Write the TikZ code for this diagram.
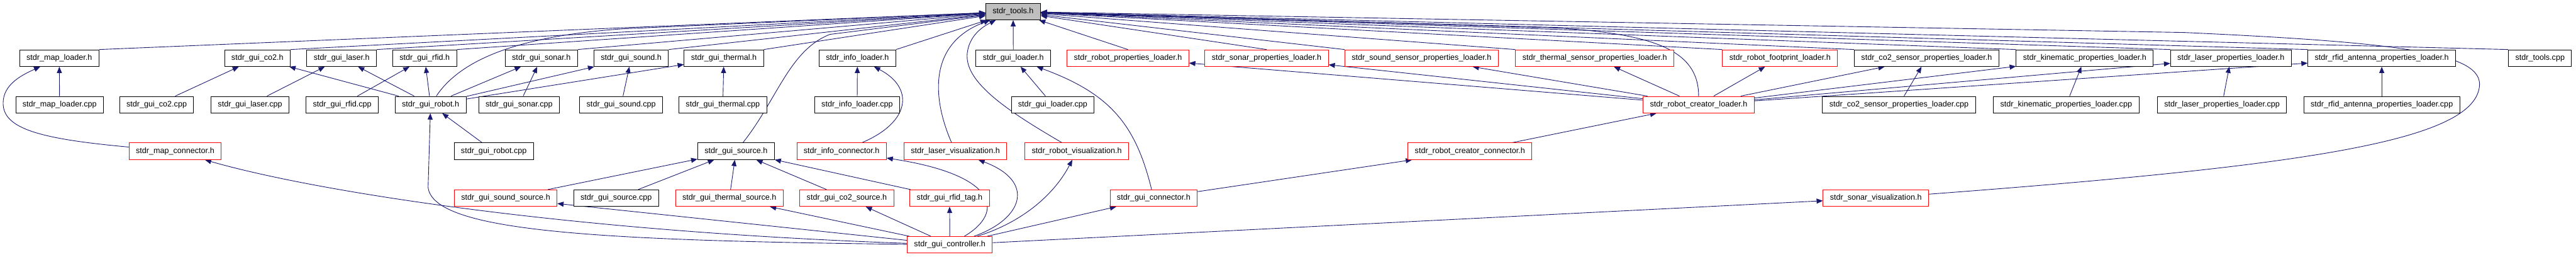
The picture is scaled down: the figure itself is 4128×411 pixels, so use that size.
\documentclass[tikz,border=0pt]{standalone}
\usepackage{fontspec}
\setmainfont{Liberation Sans}
\usepackage{tikz}
\usetikzlibrary{arrows.meta,backgrounds}
\definecolor{EdgeBlue}{RGB}{25,25,112}
\definecolor{TruncRed}{RGB}{255,0,0}
\definecolor{RootGrey}{RGB}{191,191,191}

\tikzset{
	filebox/.style={draw=black, line width=1pt, fill=white, minimum height=26.5pt,
		inner xsep=11pt, inner ysep=0pt, font=\fontsize{12.7}{15}\selectfont},
	redbox/.style={filebox, draw=TruncRed},
	rootbox/.style={filebox, fill=RootGrey},
	dep/.style={draw=EdgeBlue, line width=0.9pt, -{Triangle[length=10pt,width=8pt]}}
}

\begin{document}
\begin{tikzpicture}[x=1pt, y=1pt]
	\useasboundingbox (0,0) rectangle (4128,-411);
	% root
	\node[rootbox] (tools) at (1623.5,-18.5) {stdr\_tools.h};
	% first row
	\node[filebox] (mapl) at (95,-93) {stdr\_map\_loader.h};
	\node[filebox] (guico2) at (412.5,-93) {stdr\_gui\_co2.h};
	\node[filebox] (guilaser) at (547.5,-93) {stdr\_gui\_laser.h};
	\node[filebox] (guirfid) at (680.5,-93) {stdr\_gui\_rfid.h};
	\node[filebox] (guisonar) at (867.5,-93) {stdr\_gui\_sonar.h};
	\node[filebox] (guisound) at (1011.5,-93) {stdr\_gui\_sound.h};
	\node[filebox] (guithermal) at (1160,-93) {stdr\_gui\_thermal.h};
	\node[filebox] (infol) at (1374,-93) {stdr\_info\_loader.h};
	\node[filebox] (guiloader) at (1623.8,-93) {stdr\_gui\_loader.h};
	\node[redbox] (robotprop) at (1807.5,-93) {stdr\_robot\_properties\_loader.h};
	\node[redbox] (sonarprop) at (2029.7,-93) {stdr\_sonar\_properties\_loader.h};
	\node[redbox] (soundprop) at (2278,-93) {stdr\_sound\_sensor\_properties\_loader.h};
	\node[redbox] (thermalprop) at (2555.5,-93) {stdr\_thermal\_sensor\_properties\_loader.h};
	\node[redbox] (footprint) at (2852.5,-93) {stdr\_robot\_footprint\_loader.h};
	\node[filebox] (co2prop) at (3087.4,-93) {stdr\_co2\_sensor\_properties\_loader.h};
	\node[filebox] (kinprop) at (3340.8,-93) {stdr\_kinematic\_properties\_loader.h};
	\node[filebox] (laserprop) at (3575,-93) {stdr\_laser\_properties\_loader.h};
	\node[filebox] (rfidprop) at (3816.7,-93) {stdr\_rfid\_antenna\_properties\_loader.h};
	\node[filebox] (toolscpp) at (4070.3,-93) {stdr\_tools.cpp};
	% second row
	\node[filebox] (maplcpp) at (95.5,-167.5) {stdr\_map\_loader.cpp};
	\node[filebox] (guico2cpp) at (251,-167.5) {stdr\_gui\_co2.cpp};
	\node[filebox] (guilasercpp) at (400.7,-167.5) {stdr\_gui\_laser.cpp};
	\node[filebox] (guirfidcpp) at (548.4,-167.5) {stdr\_gui\_rfid.cpp};
	\node[filebox] (guirobot) at (690,-167.5) {stdr\_gui\_robot.h};
	\node[filebox] (guisonarcpp) at (831.8,-167.5) {stdr\_gui\_sonar.cpp};
	\node[filebox] (guisoundcpp) at (995.4,-167.5) {stdr\_gui\_sound.cpp};
	\node[filebox] (guithermalcpp) at (1158.3,-167.5) {stdr\_gui\_thermal.cpp};
	\node[filebox] (infolcpp) at (1373.6,-167.5) {stdr\_info\_loader.cpp};
	\node[filebox] (guiloadercpp) at (1687,-167.5) {stdr\_gui\_loader.cpp};
	\node[redbox] (creatorl) at (2722,-167.5) {stdr\_robot\_creator\_loader.h};
	\node[filebox] (co2propcpp) at (3043,-167.5) {stdr\_co2\_sensor\_properties\_loader.cpp};
	\node[filebox] (kinpropcpp) at (3311,-167.5) {stdr\_kinematic\_properties\_loader.cpp};
	\node[filebox] (laserpropcpp) at (3560.7,-167.5) {stdr\_laser\_properties\_loader.cpp};
	\node[filebox] (rfidpropcpp) at (3816.7,-167.5) {stdr\_rfid\_antenna\_properties\_loader.cpp};
	% third row
	\node[redbox] (mapconn) at (280.6,-242) {stdr\_map\_connector.h};
	\node[filebox] (guirobotcpp) at (791.3,-242) {stdr\_gui\_robot.cpp};
	\node[filebox] (guisource) at (1179.5,-242) {stdr\_gui\_source.h};
	\node[redbox] (infoconn) at (1348.6,-242) {stdr\_info\_connector.h};
	\node[redbox] (laservis) at (1530.9,-242) {stdr\_laser\_visualization.h};
	\node[redbox] (robotvis) at (1725.5,-242) {stdr\_robot\_visualization.h};
	\node[redbox] (creatorconn) at (2355.5,-242) {stdr\_robot\_creator\_connector.h};
	% fourth row
	\node[redbox] (soundsrc) at (810.3,-317) {stdr\_gui\_sound\_source.h};
	\node[filebox] (sourcecpp) at (987.4,-317) {stdr\_gui\_source.cpp};
	\node[redbox] (thermalsrc) at (1168.8,-317) {stdr\_gui\_thermal\_source.h};
	\node[redbox] (co2src) at (1357,-317) {stdr\_gui\_co2\_source.h};
	\node[redbox] (rfidtag) at (1521.7,-317) {stdr\_gui\_rfid\_tag.h};
	\node[redbox] (guiconn) at (1848.8,-317) {stdr\_gui\_connector.h};
	\node[redbox] (sonarvis) at (3006,-317) {stdr\_sonar\_visualization.h};
	% bottom
	\node[redbox] (controller) at (1522,-391.7) {stdr\_gui\_controller.h};

	\begin{scope}[on background layer]
		% includes of stdr_tools.h
		\foreach \n in {mapl,guico2,guilaser,guirfid,guisonar,guisound,guithermal,infol}
			\draw[dep] (\n.north east) -- (tools);
		\foreach \n in {guiloader,robotprop,sonarprop}
			\draw[dep] (\n.north) -- (tools);
		\foreach \n in {soundprop,thermalprop,footprint,co2prop,kinprop,laserprop,rfidprop,toolscpp}
			\draw[dep] (\n.north west) -- (tools);
		\draw[dep] (guirobot) .. controls (735,-100) and (820,-58) .. (1000,-46) -- (tools);
		\draw[dep] (guisource) .. controls (1245,-160) and (1265,-80) .. (1330,-55) -- (tools);
		\draw[dep] (laservis) .. controls (1495,-160) and (1485,-70) .. (tools);
		\draw[dep] (robotvis) .. controls (1610,-175) and (1545,-130) .. (1550,-85)
			.. controls (1553,-60) and (1570,-45) .. (tools);
		\draw[dep] (creatorl) .. controls (2722,-80) and (2650,-55) .. (2500,-45) -- (tools);
		\draw[dep] (sonarvis) .. controls (3700,-265) and (3960,-225) .. (3973,-140)
			.. controls (3982,-85) and (3850,-68) .. (3500,-52) -- (tools);
		% second row up
		\draw[dep] (maplcpp) -- (mapl);
		\draw[dep] (guico2cpp) -- (guico2);
		\draw[dep] (guilasercpp) -- (guilaser);
		\draw[dep] (guirfidcpp) -- (guirfid);
		\foreach \n in {guico2,guilaser,guirfid,guisonar,guisound,guithermal}
			\draw[dep] (guirobot) -- (\n);
		\draw[dep] (guisonarcpp) -- (guisonar);
		\draw[dep] (guisoundcpp) -- (guisound);
		\draw[dep] (guithermalcpp) -- (guithermal);
		\draw[dep] (infolcpp) -- (infol);
		\draw[dep] (guiloadercpp) -- (guiloader);
		\foreach \n in {robotprop,sonarprop,soundprop,thermalprop,footprint,co2prop,kinprop,laserprop,rfidprop}
			\draw[dep] (creatorl) -- (\n);
		\draw[dep] (co2propcpp) -- (co2prop);
		\draw[dep] (kinpropcpp) -- (kinprop);
		\draw[dep] (laserpropcpp) -- (laserprop);
		\draw[dep] (rfidpropcpp) -- (rfidprop);
		% third row up
		\draw[dep] (mapconn) .. controls (60,-222) and (5,-205) .. (5,-165)
			.. controls (5,-135) and (35,-120) .. (mapl);
		\draw[dep] (guirobotcpp) -- (guirobot);
		\draw[dep] (infoconn) .. controls (1460,-195) and (1465,-140) .. (infol);
		\draw[dep] (creatorconn) -- (creatorl);
		% fourth row up
		\foreach \n in {soundsrc,sourcecpp,thermalsrc,co2src,rfidtag}
			\draw[dep] (\n) -- (guisource);
		\draw[dep] (guiconn) .. controls (1820,-200) and (1780,-150) .. (guiloader);
		\draw[dep] (guiconn) -- (creatorconn);
		% stdr_gui_controller.h
		\draw[dep] (controller) .. controls (950,-385) and (695,-370) .. (686,-300) -- (guirobot);
		\draw[dep] (controller) .. controls (900,-370) and (500,-305) .. (mapconn);
		\foreach \n in {soundsrc,thermalsrc,co2src,rfidtag,guiconn,sonarvis}
			\draw[dep] (controller) -- (\n);
		\draw[dep] (controller) .. controls (1610,-340) and (1600,-280) .. (infoconn);
		\draw[dep] (controller) .. controls (1640,-350) and (1660,-290) .. (laservis);
		\draw[dep] (controller) .. controls (1640,-355) and (1690,-310) .. (robotvis);
	\end{scope}
\end{tikzpicture}
\end{document}
